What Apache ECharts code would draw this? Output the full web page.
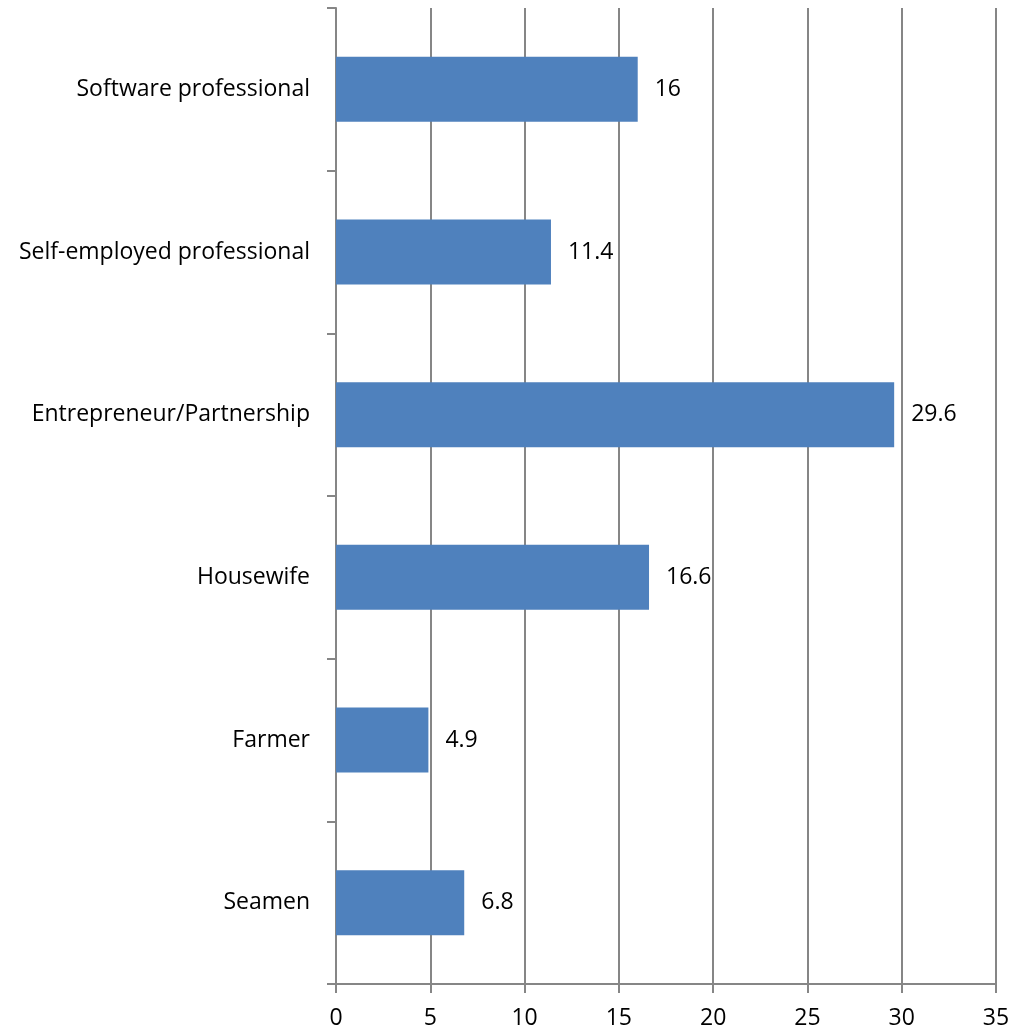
<!DOCTYPE html>
<html>
<head>
<meta charset="utf-8">
<script src="https://cdn.jsdelivr.net/npm/echarts@6/dist/echarts.min.js"></script>
<style>
  html, body { margin: 0; padding: 0; background: #fff; }
  #chart { width: 1023px; height: 1031px; }
</style>
</head>
<body>
<div id="chart"></div>
<script>
// Occupation categories, listed top to bottom
const categories = [
  'Software professional',
  'Self-employed professional',
  'Entrepreneur/Partnership',
  'Housewife',
  'Farmer',
  'Seamen'
];
// Share for each occupation (%)
const values = [16, 11.4, 29.6, 16.6, 4.9, 6.8];
// Value axis range
const axisMin = 0;
const axisMax = 35;
const axisStep = 5;

const chart = echarts.init(document.getElementById('chart'), null, { renderer: 'canvas' });
const font = 'Open Sans, Liberation Sans, sans-serif';
const gray = '#868686';

chart.setOption({
  animation: false,
  grid: { left: 336, right: 27, top: 8, bottom: 47, containLabel: false },
  xAxis: {
    type: 'value',
    min: axisMin,
    max: axisMax,
    interval: axisStep,
    axisLine: { show: true, lineStyle: { color: gray, width: 2 } },
    axisTick: { show: true, length: 9, lineStyle: { color: gray, width: 2 } },
    axisLabel: { color: '#000', fontSize: 23, fontFamily: font, margin: 23 },
    splitLine: { show: true, lineStyle: { color: gray, width: 2 } }
  },
  yAxis: {
    type: 'category',
    data: categories,
    inverse: true,
    axisLine: { show: true, lineStyle: { color: gray, width: 2 } },
    axisTick: { show: true, length: 9, lineStyle: { color: gray, width: 2 } },
    axisLabel: { color: '#000', fontSize: 23, fontFamily: font, margin: 26 },
    splitLine: { show: false }
  },
  series: [{
    type: 'bar',
    data: values,
    barCategoryGap: '60%',
    itemStyle: { color: '#4F81BD' },
    label: {
      show: true,
      position: 'right',
      distance: 17,
      color: '#000',
      fontSize: 23,
      fontFamily: font
    }
  }]
});
</script>
</body>
</html>
